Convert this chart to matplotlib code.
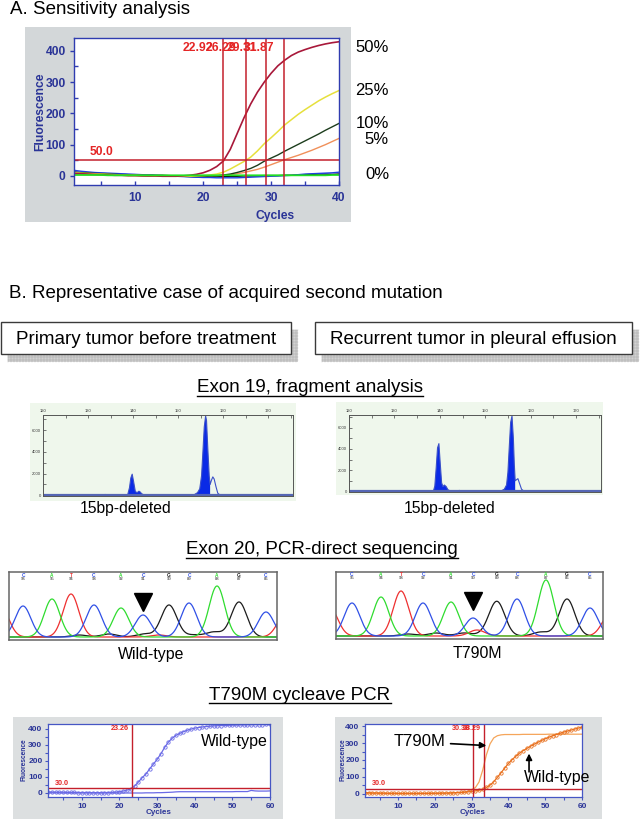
import numpy as np
import matplotlib
matplotlib.use('Agg')
import matplotlib.pyplot as plt
from matplotlib.patches import Rectangle

plt.rcParams['font.family'] = ['Liberation Sans', 'DejaVu Sans']

# ---------------- data ----------------
# Panel A: sensitivity analysis
cycles_a = list(range(1, 41))
sens_50 = [8, 7, 6, 5, 4, 3, 2, 2, 1, 1, 0, 0, 0, -1, -1, -1, 0, 2, 5, 10,
           18, 30, 48, 85, 135, 185, 230, 268, 300, 328, 352, 370, 385, 396, 404, 411, 417, 422, 426, 429]
sens_25 = [10, 9, 8, 7, 6, 5, 4, 3, 2, 2, 1, 1, 0, 0, -1, -1, -1, -1, 0, 1,
           3, 6, 12, 22, 34, 46, 60, 80, 103, 122, 142, 163, 180, 197, 212, 226, 240, 252, 263, 273]
sens_10 = [12, 10, 9, 8, 7, 6, 5, 4, 3, 2, 2, 1, 1, 0, 0, -1, -1, -1, -1, -1,
           0, 1, 3, 6, 11, 17, 24, 34, 47, 57, 67, 79, 90, 101, 112, 123, 134, 146, 157, 168]
sens_5 = [5, 5, 4, 4, 3, 3, 2, 2, 1, 1, 1, 0, 0, 0, -1, -1, -1, -1, -1, -1,
          0, 1, 2, 4, 7, 11, 16, 21, 28, 36, 44, 52, 59, 66, 74, 82, 91, 100, 110, 120]
neg_green = [3, 3, 3, 3, 3, 2, 2, 2, 2, 2, 2, 2, 2, 2, 2, 2, 2, 2, 2, 2,
             2, 2, 2, 2, 2, 2, 2, 2, 2, 2, 2, 2, 2, 2, 2, 2, 2, 2, 3, 3]
neg_blue = [18, 15, 13, 11, 10, 9, 8, 7, 6, 5, 4, 3, 2, 1, 0, -1, -2, -3, -4, -5,
            -5, -6, -6, -6, -6, -5, -4, -3, -2, -1, 0, 1, 2, 4, 6, 7, 8, 9, 10, 12]
neg_black = [12, 11, 10, 9, 8, 7, 6, 5, 4, 4, 3, 3, 2, 2, 1, 0, -1, -2, -3, -3,
             -3, -2, -2, -1, -1, 0, 0, 0, 1, 1, 1, 2, 2, 3, 4, 5, 6, 6, 5, 6]
ct_a = [22.92, 26.29, 29.31, 31.87]
threshold_a = 50.0
pct_labels = ['50%', '25%', '10%', '5%', '0%']

# Panel B: fragment analysis (bp, intensity)
frag_primary_bp = [120, 133.3, 133.8, 134.3, 138.8, 139.2, 139.5, 139.8, 140.1, 140.5, 140.9, 141.3,
                   141.6, 141.9, 142.3, 142.8, 148, 153.5, 154.3, 154.8, 155.2, 155.5, 155.8, 156.1,
                   156.3, 156.6, 156.9, 157.1, 157.4, 157.7, 158.0, 158.4, 158.8, 159.3, 175.5]
frag_primary_int = [30, 30, 80, 30, 60, 700, 1600, 1950, 1300, 350, 250, 380,
                    300, 150, 60, 30, 30, 40, 250, 600, 1800, 4000, 6300, 7300,
                    6900, 4200, 1800, 1000, 1400, 1700, 1500, 800, 200, 30, 30]
frag_primary_filled = [(138.7, 142.9), (153.4, 157.1)]
frag_recur_bp = [120, 138.6, 138.9, 139.2, 139.5, 139.8, 140.1, 140.4, 140.7, 141.0, 141.4, 141.8,
                 142.3, 144.0, 144.3, 144.6, 153.5, 154.2, 154.7, 155.0, 155.3, 155.6, 155.9, 156.2,
                 156.4, 156.6, 156.9, 157.2, 157.6, 158.0, 158.5, 175.5]
frag_recur_int = [30, 40, 500, 2200, 4100, 4500, 2600, 800, 450, 600, 450, 150,
                  40, 40, 90, 40, 40, 200, 600, 1800, 4200, 6500, 7100, 5000,
                  2600, 1000, 1100, 1200, 700, 200, 30, 30]
frag_recur_filled = [(138.5, 142.4), (153.4, 156.6)]
frag_xticks = [120, 130, 140, 150, 160, 170]
frag_yticks = [0, 2000, 4000, 6000]

# Panel B: sequencing (peak scan position, peak height, base)
seq_bases = ['C', 'A', 'T', 'C', 'A', 'C', 'G', 'C', 'A', 'G', 'C']
seq_wt_pos = [14, 43, 62, 85, 112, 134, 160, 180, 208, 230, 257]
seq_wt_height = [31, 38, 43, 32, 29, 22, 32, 34, 51, 35, 25]
seq_wt_numbers = ['96', '95', '94', '93', '92', '91', '90', '89', '88', '87', '86']
seq_wt_minor = [(-8, 30, 'T'), (276, 22, 'T'), (70, 2, 'G'), (100, 3, 'G'), (135, 3, 'G'),
                (150, 2, 'T'), (205, 5, 'G'), (185, 2, 'G')]
seq_mut_pos = [16, 45, 65, 87, 115, 137, 161, 181, 210, 231, 254]
seq_mut_height = [33, 39, 45, 33, 34, 18, 34, 37, 56, 37, 28]
seq_mut_numbers = ['95', '94', '93', '92', '91', '90', '89', '88', '87', '86', '85']
seq_mut_minor = [(-6, 28, 'T'), (274, 22, 'T'), (141, 6, 'T'), (72, 2, 'G'), (100, 3, 'G'),
                 (128, 3, 'G'), (205, 4, 'G'), (150, 2, 'G')]

# Panel B: cycleave PCR
cycles_b = list(range(1, 61))
pcr_wt_primary = [6, 6, 5, 5, 5, 4, 4, 4, 3, 3, 3, 3, 2, 2, 2, 3, 3, 4, 5, 8,
                  12, 18, 25, 43, 68, 95, 118, 150, 180, 210, 245, 285, 318, 342, 360, 372, 383, 392, 399, 405,
                  409, 412, 415, 417, 419, 420, 421, 422, 423, 424, 424, 425, 425, 426, 426, 427, 427, 427, 428, 428]
pcr_bg_primary = [2, 1, 1, 1, 0, 0, 0, 0, 0, 0, 0, 0, 0, 0, 0, 0, 0, 0, 0, 0,
                  0, 0, 0, 0, 0, 0, 1, 1, 1, 2, 2, 3, 4, 5, 7, 8, 8, 8, 8, 8,
                  8, 8, 8, 8, 8, 8, 8, 8, 8, 8, 9, 9, 9, 9, 16, 13, 12, 12, 12, 13]
ct_primary = [23.26]
pcr_t790m = [4, 4, 3, 3, 3, 3, 2, 2, 2, 2, 2, 2, 2, 2, 2, 3, 3, 3, 3, 3,
             3, 4, 4, 4, 5, 6, 8, 11, 16, 26, 37, 70, 140, 230, 295, 330, 343, 348, 350, 350,
             350, 350, 350, 351, 351, 351, 351, 351, 351, 351, 352, 352, 352, 352, 352, 352, 352, 352, 352, 352]
pcr_wt_recur = [8, 7, 6, 6, 5, 5, 4, 4, 4, 3, 3, 3, 3, 3, 3, 3, 3, 3, 4, 4,
                4, 5, 5, 6, 7, 8, 9, 10, 12, 15, 18, 22, 27, 38, 52, 72, 98, 125, 153, 180,
                202, 222, 240, 255, 268, 281, 293, 304, 315, 325, 334, 342, 350, 357, 364, 370, 376, 382, 388, 393]
ct_recur = [30.38, 33.29]
threshold_b = 30.0

# ---------------- figure ----------------
W, H = 640, 819
fig = plt.figure(figsize=(W / 100, H / 100), dpi=100)
canvas = fig.add_axes([0, 0, 1, 1])
canvas.set_xlim(0, W)
canvas.set_ylim(H, 0)
canvas.axis('off')


def px_axes(x0, y0, x1, y1):
    return fig.add_axes([x0 / W, 1 - y1 / H, (x1 - x0) / W, (y1 - y0) / H])


BLUE_AX = '#2f3cb0'
BLUE_TXT = '#2a3497'
RED_LINE = '#c4202c'
RED_TXT = '#e42626'

# ---------- Panel A ----------
canvas.text(10, 10, 'A. Sensitivity analysis', fontsize=13.5, ha='left', va='center')
canvas.add_patch(Rectangle((25, 27), 326, 195, fc='#d3d7d9', ec='none'))
axA = px_axes(74, 38, 339, 185)
axA.set_xlim(1, 40)
axA.set_ylim(-29, 441)
for s in axA.spines.values():
    s.set_color(BLUE_AX)
    s.set_linewidth(1.0)
axA.plot(cycles_a, neg_black, color='black', lw=1.0)
axA.plot(cycles_a, neg_blue, color='#2040e0', lw=1.0)
axA.plot(cycles_a, sens_5, color='#f0905a', lw=1.0)
axA.plot(cycles_a, sens_10, color='#1d3d1d', lw=1.0)
axA.plot(cycles_a, sens_25, color='#e6e03c', lw=1.1)
axA.plot(cycles_a, sens_50, color='#a8183a', lw=1.2)
axA.plot(cycles_a, neg_green, color='#22e022', lw=1.3)
axA.axhline(threshold_a, color=RED_LINE, lw=1.1)
for ct in ct_a:
    axA.axvline(ct, color=RED_LINE, lw=1.1)
    axA.annotate(f'{ct:.2f}', xy=(ct, 1), xycoords=('data', 'axes fraction'), xytext=(-7, -3),
                 textcoords='offset points', ha='right', va='top', color=RED_TXT,
                 fontsize=8.7, fontweight='bold')
axA.annotate(f'{threshold_a:.1f}', xy=(0, threshold_a), xycoords=('axes fraction', 'data'),
             xytext=(11, 2), textcoords='offset points', ha='left', va='bottom',
             color=RED_TXT, fontsize=8.7, fontweight='bold')
axA.set_xticks([10, 20, 30, 40])
axA.set_xticks([5, 15, 25, 35], minor=True)
axA.set_yticks([0, 100, 200, 300, 400])
axA.set_yticks([50, 150, 250, 350], minor=True)
axA.tick_params(axis='both', which='both', direction='in', colors=BLUE_AX, length=3, width=1)
axA.tick_params(axis='x', which='major', pad=5, labelsize=8.7, labelcolor=BLUE_TXT)
axA.tick_params(axis='y', which='major', pad=3, labelsize=8.7, labelcolor=BLUE_TXT, direction='out')
for lbl in axA.get_xticklabels() + axA.get_yticklabels():
    lbl.set_fontweight('bold')
canvas.text(40, 112, 'Fluorescence', rotation=90, fontsize=8.7, fontweight='bold',
            color=BLUE_TXT, ha='center', va='center')
canvas.text(275, 216, 'Cycles', fontsize=8.7, fontweight='bold', color=BLUE_TXT,
            ha='center', va='center')
ends = [sens_50[-1], sens_25[-1], sens_10[-1], sens_5[-1], neg_green[-1]]
offs = [-4, 0, 0, -1, 0]
for lab, e, o in zip(pct_labels, ends, offs):
    axA.annotate(lab, xy=(1, e), xycoords=('axes fraction', 'data'), xytext=(36, o),
                 textcoords='offset points', ha='right', va='center', fontsize=12,
                 annotation_clip=False)

# ---------- Panel B header ----------
canvas.text(9, 294, 'B. Representative case of acquired second mutation', fontsize=13.5,
            ha='left', va='center')


def shadow_box(x, y, w, h, text):
    sx, sy = x + 7, y + 8
    canvas.add_patch(Rectangle((sx, sy), w, h, fc='#d2d2d2', ec='none', zorder=1))
    for gx in np.arange(sx, sx + w + 0.1, 3):
        canvas.plot([gx, gx], [sy, sy + h], color='#a8a8a8', lw=0.35, zorder=1.5)
    for gy in np.arange(sy, sy + h + 0.1, 3):
        canvas.plot([sx, sx + w], [gy, gy], color='#a8a8a8', lw=0.35, zorder=1.5)
    canvas.add_patch(Rectangle((x, y), w, h, fc='white', ec='#3a3a3a', lw=1.0, zorder=2))
    canvas.text(x + w / 2, y + h / 2 + 1, text, fontsize=13.5, ha='center', va='center', zorder=3)


shadow_box(1, 322, 290, 32, 'Primary tumor before treatment')
shadow_box(315, 322, 317, 32, 'Recurrent tumor in pleural effusion')

subtitles = []
subtitles.append(canvas.text(310, 388, 'Exon 19, fragment analysis', fontsize=13.5,
                             ha='center', va='center'))
subtitles.append(canvas.text(322, 550, 'Exon 20, PCR-direct sequencing', fontsize=13.5,
                             ha='center', va='center'))
subtitles.append(canvas.text(300, 695, 'T790M cycleave PCR', fontsize=13.5,
                             ha='center', va='center'))


# ---------- fragment analysis ----------
def fragment(bg, box, bp, inten, filled, ylim):
    canvas.add_patch(Rectangle((bg[0], bg[1]), bg[2] - bg[0], bg[3] - bg[1], fc='#eff7ec', ec='none'))
    ax = px_axes(*box)
    ax.set_facecolor('#eff7ec')
    bp = np.asarray(bp, float)
    inten = np.asarray(inten, float)
    mask = np.zeros_like(bp, dtype=bool)
    for a, b in filled:
        mask |= (bp >= a) & (bp <= b)
    ax.fill_between(bp, 0, inten, where=mask, color='#0a2ae6', lw=0)
    ax.plot(bp, inten, color='#3b50c8', lw=0.8)
    ax.axhline(0, color='#5566b4', lw=1.6)
    ax.set_xlim(120, 175.5)
    ax.set_ylim(*ylim)
    ax.set_xticks(frag_xticks)
    ax.set_xticks(np.arange(125, 176, 10), minor=True)
    ax.set_yticks(frag_yticks)
    ax.set_yticks([1000, 3000, 5000, 7000], minor=True)
    ax.xaxis.tick_top()
    ax.tick_params(axis='both', which='both', length=2, width=0.5, direction='in', colors='#444444')
    ax.tick_params(axis='both', which='major', labelsize=3, pad=1.5, labelcolor='#333333')
    for s in ax.spines.values():
        s.set_color('#555555')
        s.set_linewidth(0.7)
    return ax


fragment((30, 403, 296, 501), (43, 415, 293, 496), frag_primary_bp, frag_primary_int,
         frag_primary_filled, (-60, 7400))
fragment((336, 402, 603, 495), (349, 415, 601, 492), frag_recur_bp, frag_recur_int,
         frag_recur_filled, (-60, 7200))
canvas.text(126, 509, '15bp-deleted', fontsize=11.3, ha='center', va='center')
canvas.text(450, 509, '15bp-deleted', fontsize=11.3, ha='center', va='center')

# ---------- sequencing ----------
BASE_COL = {'A': '#2fdc2f', 'C': '#3050e6', 'G': '#1c1c1c', 'T': '#ee3030'}


def chromatogram(box, pos, heights, minor, numbers, label, label_xy):
    ax = px_axes(*box)
    grid = np.linspace(-25, 295, 1400)
    traces = {b: np.zeros_like(grid) for b in 'ACGT'}
    peaks = list(zip(pos, heights, seq_bases)) + list(minor)
    for c, h, b in peaks:
        traces[b] += h * np.exp(-0.5 * ((grid - c) / 7.8) ** 2)
    for b in ['G', 'T', 'A', 'C']:
        ax.plot(grid, traces[b], color=BASE_COL[b], lw=0.9)
    ax.set_xlim(0, box[2] - box[0])
    ax.set_ylim(-3, box[3] - box[1] - 3)
    for c, b, n in zip(pos, seq_bases, numbers):
        ax.text(c, 61.5, b, color=BASE_COL[b], fontsize=3.4, ha='center', va='center',
                fontweight='bold')
        ax.text(c, 58.3, n, color='#222222', fontsize=3.0, ha='center', va='center')
    ax.plot(pos[5], 35.5, marker='v', ms=13.5, color='black', ls='none')
    ax.set_xticks([])
    ax.set_yticks([])
    for s in ax.spines.values():
        s.set_color('#666666')
        s.set_linewidth(1.1)
    canvas.text(label_xy[0], label_xy[1], label, fontsize=11.4, ha='center', va='center')


chromatogram((9, 572, 277, 640), seq_wt_pos, seq_wt_height, seq_wt_minor, seq_wt_numbers,
             'Wild-type', (151, 655))
chromatogram((336, 572, 603, 639), seq_mut_pos, seq_mut_height, seq_mut_minor, seq_mut_numbers,
             'T790M', (477, 653))


# ---------- cycleave PCR ----------
def pcr_axes(bg, box, ylim):
    canvas.add_patch(Rectangle((bg[0], bg[1]), bg[2] - bg[0], bg[3] - bg[1], fc='#dcdfe0', ec='none'))
    ax = px_axes(*box)
    ax.set_xlim(1, 60)
    ax.set_ylim(*ylim)
    for s in ax.spines.values():
        s.set_color('#4656c4')
        s.set_linewidth(0.9)
    ax.set_xticks([10, 20, 30, 40, 50, 60])
    ax.set_xticks([5, 15, 25, 35, 45, 55], minor=True)
    ax.set_yticks([0, 100, 200, 300, 400])
    ax.set_yticks([50, 150, 250, 350], minor=True)
    ax.tick_params(axis='both', which='both', direction='out', colors='#4656c4', length=2, width=0.8)
    ax.tick_params(axis='both', which='major', labelsize=6, pad=2, labelcolor=BLUE_TXT)
    for lbl in ax.get_xticklabels() + ax.get_yticklabels():
        lbl.set_fontweight('bold')
    return ax


def ct_lines(ax, cts):
    ax.axhline(threshold_b, color=RED_LINE, lw=1.0)
    ax.annotate(f'{threshold_b:.1f}', xy=(0, threshold_b), xycoords=('axes fraction', 'data'),
                xytext=(5, 1), textcoords='offset points', ha='left', va='bottom',
                color=RED_TXT, fontsize=5.2, fontweight='bold')
    for ct in cts:
        ax.axvline(ct, color=RED_LINE, lw=1.0)
        ax.annotate(f'{ct:.2f}', xy=(ct, 1), xycoords=('data', 'axes fraction'), xytext=(-2, -0.5),
                    textcoords='offset points', ha='right', va='top', color=RED_TXT,
                    fontsize=5.2, fontweight='bold')


axL = pcr_axes((13, 717, 283, 819), (48, 724, 270, 797), (-25, 431))
axL.plot(cycles_b, pcr_bg_primary, color='#6a6ae6', lw=0.9)
axL.plot(cycles_b, pcr_wt_primary, color='#6a6ae6', lw=0.9, marker='o', ms=2.4,
         mfc='none', mew=0.6)
ct_lines(axL, ct_primary)
axL.text(50.4, 319, 'Wild-type', fontsize=11.5, ha='center', va='center')
canvas.text(24, 760, 'Fluorescence', rotation=90, fontsize=4.8, fontweight='bold',
            color=BLUE_TXT, ha='center', va='center')
canvas.text(159, 812, 'Cycles', fontsize=5.8, fontweight='bold', color=BLUE_TXT,
            ha='center', va='center')

axR = pcr_axes((335, 717, 602, 819), (365, 724, 582, 797), (-18, 412))
axR.plot(cycles_b, pcr_t790m, color='#f5a55a', lw=0.9)
axR.plot(cycles_b, pcr_wt_recur, color='#e8701e', lw=0.9, marker='o', ms=2.4,
         mfc='none', mew=0.6)
ct_lines(axR, ct_recur)
axR.annotate('T790M', xy=(34.0, 285), xytext=(15.7, 306), fontsize=12, ha='center', va='center',
             arrowprops=dict(arrowstyle='-|>', color='black', lw=1.2, mutation_scale=9,
                             shrinkA=2, shrinkB=0))
axR.annotate('', xy=(45.6, 238), xytext=(45.6, 130),
             arrowprops=dict(arrowstyle='-|>', color='black', lw=1.2, mutation_scale=9,
                             shrinkA=0, shrinkB=0))
axR.text(53.2, 94, 'Wild-type', fontsize=11.4, ha='center', va='center')
canvas.text(343, 760, 'Fluorescence', rotation=90, fontsize=4.8, fontweight='bold',
            color=BLUE_TXT, ha='center', va='center')
canvas.text(473, 812, 'Cycles', fontsize=5.8, fontweight='bold', color=BLUE_TXT,
            ha='center', va='center')

# underline subtitles
fig.canvas.draw()
for t in subtitles:
    bb = t.get_window_extent()
    yline = H - bb.y0 - 0.5
    canvas.plot([bb.x0, bb.x1], [yline, yline], color='black', lw=1.0)

fig.savefig('out.png', dpi=100, facecolor='white')
